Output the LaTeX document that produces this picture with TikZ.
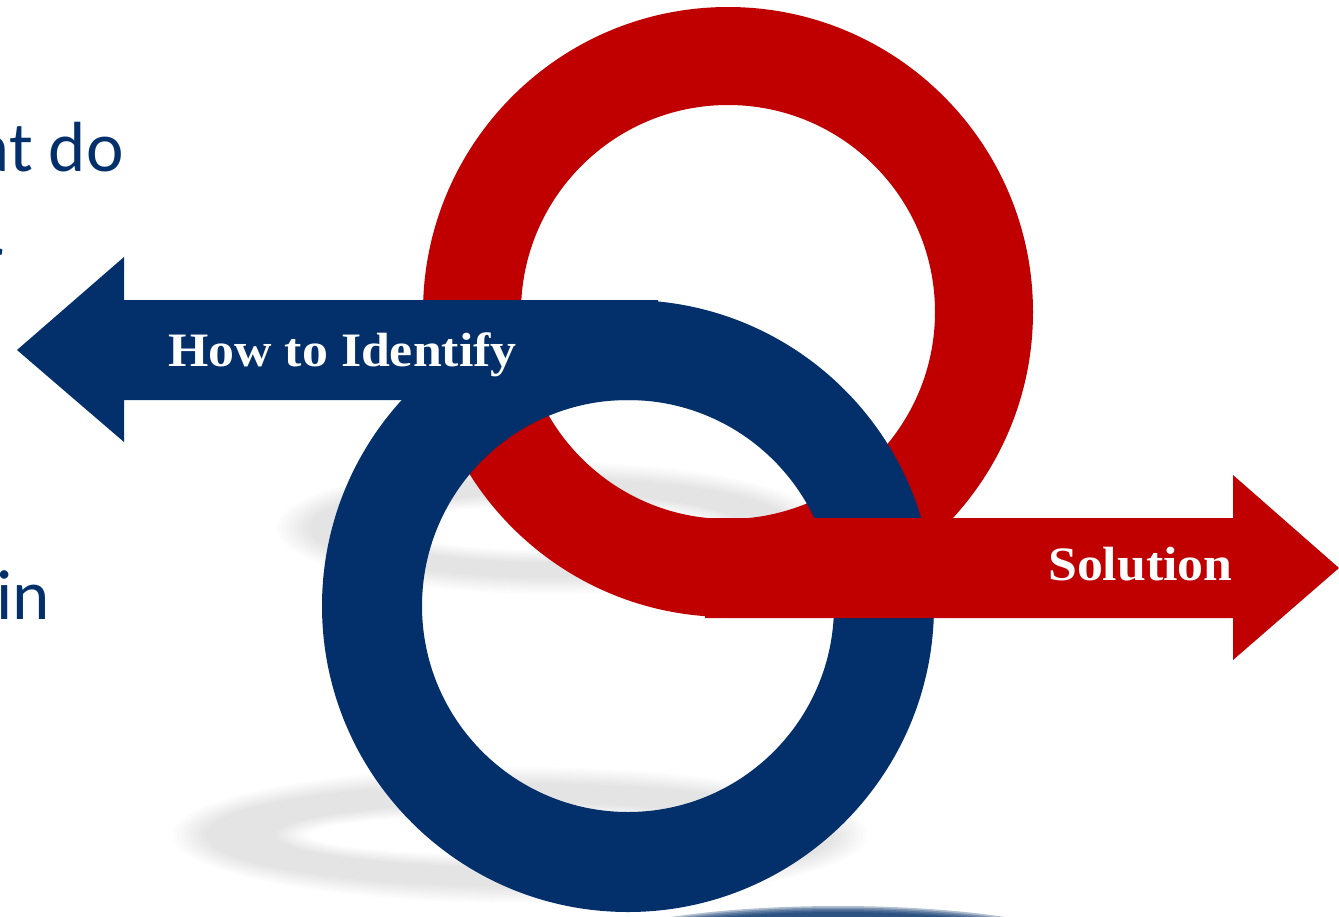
\documentclass[tikz,border=0pt]{standalone}
\usepackage{fontspec}
\setmainfont{Liberation Serif}
\newfontfamily\slidefont{Carlito}
\usetikzlibrary{arrows.meta}
\tikzset{>=Stealth}
\definecolor{ringred}{RGB}{192,0,0}
\definecolor{ringblue}{RGB}{3,48,106}
\tikzset{
  tag/.style={text=white,inner sep=0pt,anchor=base west,xscale=1.08,
    font=\fontsize{48}{48}\selectfont\bfseries},
  slide/.style={text=ringblue,inner sep=0pt,anchor=base east,
    font=\fontsize{71}{84}\slidefont},
  haze/.style={fill=black,fill opacity=0.012,even odd rule}
}

\begin{document}
\begin{tikzpicture}[x=1pt,y=-1pt]
\useasboundingbox (0,0) rectangle (1339,916);
\clip (0,0) rectangle (1339,916);

% soft shadows under the rings
\foreach \k in {0,...,8}{
  \fill[haze] (552,528) ellipse ({(275-4*\k)*1pt} and {(66-2*\k)*1pt})
              (552,528) ellipse ({(160+4*\k)*1pt} and {(22+1.5*\k)*1pt});
  \fill[haze] (520,835) ellipse ({(347-4*\k)*1pt} and {(68-2*\k)*1pt})
              (520,835) ellipse ({(212+4*\k)*1pt} and {(20+1.5*\k)*1pt});
}
\foreach \k in {0,...,4}
  \fill[ringblue,fill opacity=0.3] (838,954) ellipse ({(262-6*\k)*1pt} and {(48-1.5*\k)*1pt});

% red ring, then blue ring and arrow over it
\fill[ringred,even odd rule] (728,312) circle (305pt) (728,312) circle (207pt);
\fill[ringblue,even odd rule] (628,606) circle (306pt) (628,606) circle (206pt);
\fill[ringblue] (658,300) -- (124,300) -- (124,257) -- (17,350) -- (124,442)
  -- (124,400) -- (658,400) -- cycle;
% red arrow lies on top of the blue ring
\fill[ringred] (705,518) -- (1233,518) -- (1233,475) -- (1339,568) -- (1233,660)
  -- (1233,618) -- (705,618) -- cycle;

\node[tag] (identify) at (168,366) {How to Identify};
\node[tag] (solution) at (1048,580) {Solution};

\node[slide] (line1) at (124,171) {What do};
\node[slide] (line2) at (4,283) {r};
\node[slide] (line3) at (50,619) {in};
\end{tikzpicture}
\end{document}
